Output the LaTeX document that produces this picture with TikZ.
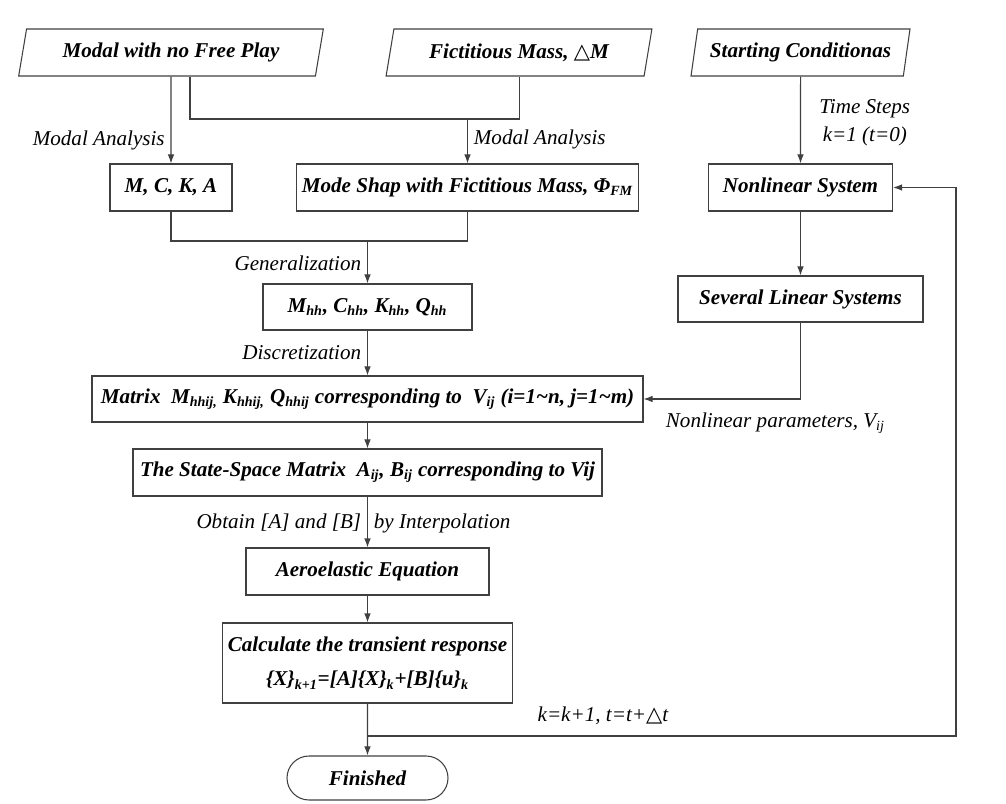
\documentclass[tikz,border=0pt]{standalone}
\usepackage{fontspec}
\setmainfont{Liberation Serif}
\newfontfamily\symfont{DejaVu Sans}
\newcommand{\tri}{{\symfont\mdseries\upshape △}}
\usetikzlibrary{shapes.geometric,shapes.misc,arrows.meta}
\tikzset{%
  proc/.style = {shape=rectangle, draw=black!75, line width=0.6pt,%
                 minimum height=9.4mm, inner sep=1mm,%
                 font=\fontsize{12}{14.5}\selectfont\bfseries\itshape},%
  io/.style   = {proc, shape=trapezium, trapezium left angle=78,%
                 trapezium right angle=102, trapezium stretches=true},%
  term/.style = {proc, shape=rounded rectangle, minimum height=8.8mm},%
  lbl/.style  = {font=\fontsize{12}{14.5}\selectfont\itshape}%
}

\begin{document}
\begin{tikzpicture}[x=0.2mm, y=-0.2mm, line width=0.6pt, draw=black!75,%
    >={Latex[length=1.8mm,width=1.3mm]}]
  \useasboundingbox (0,0) rectangle (1006,804);
  % inputs
  \node (fp) at (171,52.5)   [io, minimum width=61mm] {Modal with no Free Play};
  \node (fm) at (519,52.5)   [io, minimum width=53.2mm] {Fictitious Mass, \tri M};
  \node (sc) at (800.5,52.5) [io, minimum width=43.8mm] {Starting Conditionas};
  % process boxes
  \node (mcka) at (171,187.5)   [proc, minimum width=24.4mm] {M, C, K, A};
  \node (ms)   at (467.5,187.5) [proc, minimum width=67.8mm]
    {Mode Shap with Fictitious Mass, Φ\textsubscript{FM}};
  \node (ns)   at (800.5,187.5) [proc, minimum width=36.8mm] {Nonlinear System};
  \node (gen)  at (367.5,307)   [proc, minimum width=41.8mm, minimum height=9.2mm]
    {M\textsubscript{hh}, C\textsubscript{hh}, K\textsubscript{hh}, Q\textsubscript{hh}};
  \node (sls)  at (800.5,299)   [proc, minimum width=49mm, minimum height=9.2mm] {Several Linear Systems};
  \node (mat)  at (367.5,399)   [proc, minimum width=110.2mm, minimum height=9.2mm]
    {Matrix\ \ M\textsubscript{hhij,} K\textsubscript{hhij,} Q\textsubscript{hhij} corresponding to\ \ V\textsubscript{ij} (i=1\textasciitilde n, j=1\textasciitilde m)};
  \node (ssm)  at (367.5,472.5) [proc, minimum width=93.8mm]
    {The State-Space Matrix\ \ A\textsubscript{ij}, B\textsubscript{ij} corresponding to Vij};
  \node (aeq)  at (367.5,571.5) [proc, minimum width=48.6mm] {Aeroelastic Equation};
  \node (calc) at (367.5,663)   [proc, minimum width=58mm, minimum height=16mm, align=center]
    {Calculate the transient response\\[5pt]
     \{X\}\textsubscript{k+1}=[A]\{X\}\textsubscript{k}+[B]\{u\}\textsubscript{k}};
  \node (fin)  at (367.5,778)   [term, minimum width=34.2mm] {Finished};
  % joints
  \coordinate (j1) at (467.5,119);
  \coordinate (j2) at (367.5,241);
  \coordinate (j3) at (367.5,736);
  \coordinate (fb) at (956,187.5);
  % connectors
  \draw[->] (fp) -- node[lbl, pos=0.73, left] {Modal Analysis} (mcka);
  \draw ([xshift=3.8mm]fp.south) |- (j1) -| (fm.south);
  \draw[->] (j1) -- node[lbl, pos=0.47, right] {Modal Analysis} (ms);
  \draw[->] (sc) -- node[lbl, pos=0.53, right=2.5mm, align=center] {Time Steps\\[1.5pt]k=1 (t=0)} (ns);
  \draw (mcka) |- (j2) -| (ms);
  \draw[->] (j2) -- node[lbl, pos=0.53, left] {Generalization} (gen);
  \draw[->] (gen) -- node[lbl, left] {Discretization} (mat);
  \draw[->] (ns) -- (sls);
  \draw[->] (sls) |- node[lbl, pos=0.58, below=1.5mm] {Nonlinear parameters, V\textsubscript{ij}} (mat);
  \draw[->] (mat) -- (ssm);
  \draw[->] (ssm) -- node[lbl, pos=0.52, left] {Obtain [A] and [B]}
                     node[lbl, pos=0.52, right] {by Interpolation} (aeq);
  \draw[->] (aeq) -- (calc);
  \draw[->] (calc) -- (fin);
  \draw[->] (j3) -| node[lbl, pos=0.2, above=1mm] {k=k+1, t=t+\tri t} (fb) -- (ns);
\end{tikzpicture}
\end{document}
